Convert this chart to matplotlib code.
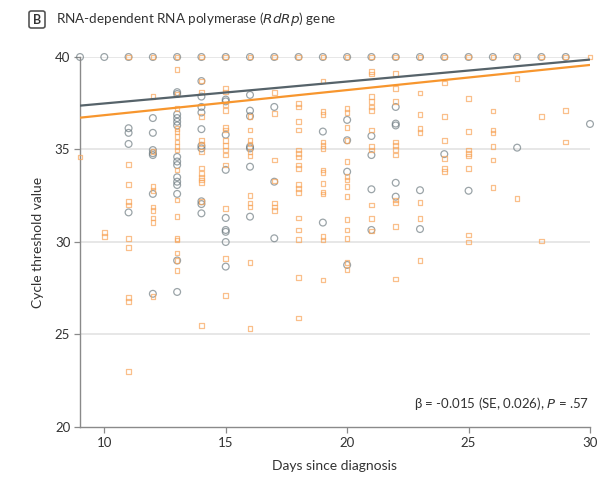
import matplotlib
matplotlib.use("Agg")
import matplotlib.pyplot as plt
from matplotlib.patches import FancyBboxPatch

plt.rcParams['font.family'] = ['Lato', 'DejaVu Sans']

# ---- data ----
gray_pts = {
    9: [40], 10: [40],
    11: [40, 36.15, 35.9, 35.3, 31.6],
    12: [40, 36.7, 35.9, 34.97, 34.8, 34.7, 32.6, 27.2],
    13: [40, 38.1, 38.0, 36.9, 36.7, 36.5, 36.3, 34.6, 34.35, 34.16, 33.5, 33.26, 33.08, 32.6, 29.0, 27.3],
    14: [40, 38.7, 37.86, 37.3, 37.0, 36.1, 35.2, 35.06, 32.2, 32.05, 31.55],
    15: [40, 37.7, 37.6, 35.8, 33.9, 31.3, 30.65, 30.55, 30.0, 28.67],
    16: [40, 37.95, 37.1, 36.8, 35.15, 35.06, 34.07, 31.37],
    17: [40, 37.3, 33.26, 30.2],
    18: [40],
    19: [40, 35.97, 31.05],
    20: [40, 36.6, 35.5, 33.8, 28.76],
    21: [40, 35.73, 34.7, 32.85, 30.65],
    22: [40, 37.3, 36.4, 36.3, 33.2, 32.45],
    23: [40, 32.8, 30.7],
    24: [40, 34.75],
    25: [40, 32.77],
    26: [40],
    27: [40, 35.1],
    28: [40], 29: [40],
    30: [36.38],
}
orange_pts = {
    9: [34.6],
    10: [30.5, 30.3],
    11: [40, 34.2, 33.1, 32.2, 32.0, 30.2, 29.7, 27.0, 26.8, 23.0],
    12: [40, 37.85, 34.9, 33.0, 32.8, 31.9, 31.7, 31.3, 31.05, 27.05],
    13: [40, 39.33, 38.0, 37.2, 36.15, 35.96, 35.7, 35.4, 35.15, 34.97, 33.9, 32.27, 31.37, 30.2, 30.1, 29.4, 29.0, 28.45],
    14: [40, 38.7, 38.1, 36.8, 35.5, 35.3, 34.9, 34.0, 33.7, 33.5, 33.35, 33.2, 32.2, 25.48],
    15: [40, 38.3, 38.1, 37.4, 37.1, 36.2, 36.05, 35.5, 35.2, 34.97, 34.7, 34.16, 31.8, 29.1, 27.1],
    16: [40, 36.8, 36.05, 35.5, 35.3, 34.9, 34.65, 32.5, 32.1, 31.9, 28.9, 25.33],
    17: [40, 38.07, 36.95, 34.43, 33.3, 32.1, 31.9, 31.7],
    18: [40, 37.5, 37.3, 36.5, 36.05, 34.97, 34.8, 34.6, 34.16, 33.98, 33.1, 32.9, 32.66, 31.3, 30.65, 30.15, 28.07, 25.9],
    19: [40, 38.7, 37.05, 36.9, 35.4, 35.2, 35.06, 33.9, 33.75, 33.17, 32.7, 32.6, 30.3, 30.1, 27.95],
    20: [40, 37.2, 37.0, 36.2, 35.5, 34.35, 33.53, 33.35, 32.99, 32.45, 31.2, 30.65, 30.2, 28.9, 28.5],
    21: [40, 39.2, 39.08, 37.86, 37.6, 37.3, 37.1, 36.05, 35.15, 34.97, 32.0, 31.28, 30.6],
    22: [40, 39.1, 38.3, 37.6, 35.4, 35.2, 35.0, 34.7, 32.27, 32.1, 30.83, 28.0],
    23: [40, 38.05, 36.9, 36.15, 35.93, 32.13, 31.28, 29.0],
    24: [40, 38.6, 36.8, 35.5, 34.5, 33.98, 33.8],
    25: [40, 37.77, 35.96, 34.97, 34.8, 34.65, 33.98, 30.38, 30.0],
    26: [40, 37.08, 36.05, 35.9, 35.15, 34.43, 32.96],
    27: [40, 38.85, 32.36],
    28: [40, 36.8, 30.05],
    29: [40, 37.1, 35.4],
    30: [40],
}
fit_days = [9, 30]
gray_fit = [37.37, 39.86]
orange_fit = [36.72, 39.57]
x_ticks = [10, 15, 20, 25, 30]
y_ticks = [20, 25, 30, 35, 40]

gx = [d for d, v in gray_pts.items() for _ in v]
gy = [c for v in gray_pts.values() for c in v]
ox = [d for d, v in orange_pts.items() for _ in v]
oy = [c for v in orange_pts.values() for c in v]

GRAY = '#66747a'
ORANGE = '#f8a55a'
TXT = '#333333'

fig = plt.figure(figsize=(5.97, 4.79), dpi=100)
ax = fig.add_axes([80/597, 1-427/479, (590-80)/597, (427-57)/479])
ax.set_xlim(9, 30)
ax.set_ylim(20, 40)

for yv in [25, 30, 35, 40]:
    ax.axhline(yv, color='#e3e3e3', lw=1.2, zorder=0)

ax.scatter(gx, gy, marker='o', s=24, facecolors='none', edgecolors=GRAY,
           linewidths=0.9, alpha=0.65, clip_on=False, zorder=2)
ax.scatter(ox, oy, marker='s', s=11, facecolors='none', edgecolors=ORANGE,
           linewidths=0.9, alpha=0.7, clip_on=False, zorder=3)
ax.plot(fit_days, gray_fit, color='#56636a', lw=1.6, zorder=4)
ax.plot(fit_days, orange_fit, color='#f7962e', lw=1.6, zorder=4)

for s in ['top', 'right']:
    ax.spines[s].set_visible(False)
for s in ['left', 'bottom']:
    ax.spines[s].set_color('#8a8a8a')
    ax.spines[s].set_linewidth(1.0)

ax.set_xticks(x_ticks)
ax.set_yticks(y_ticks)
ax.tick_params(axis='both', colors='#8a8a8a', labelcolor=TXT, labelsize=9.5,
               length=4, width=0.9, pad=3)
ax.set_xlabel('Days since diagnosis', fontsize=10, color=TXT, labelpad=8)
ax.set_ylabel('Cycle threshold value', fontsize=10, color=TXT, labelpad=8)

ax.text(29.95, 21.25, r'β = -0.015 (SE, 0.026), $\mathit{P}$ = .57', ha='right',
        va='center', fontsize=9.5, color=TXT)

# panel label box
fig.patches.append(FancyBboxPatch((29/597, 1-28/479), 16/597, 17/479,
                                  boxstyle='round,pad=0,rounding_size=0.004',
                                  transform=fig.transFigure, fill=False,
                                  edgecolor='#555555', lw=1.2))
fig.text(37/597, 1-19.5/479, 'B', ha='center', va='center', fontsize=9,
         fontweight='bold', color=TXT)
fig.text(56/597, 1-19.5/479, r'RNA-dependent RNA polymerase ($\mathit{RdRp}$) gene',
         ha='left', va='center', fontsize=9.7, color=TXT)

fig.savefig('out.png', dpi=100)
